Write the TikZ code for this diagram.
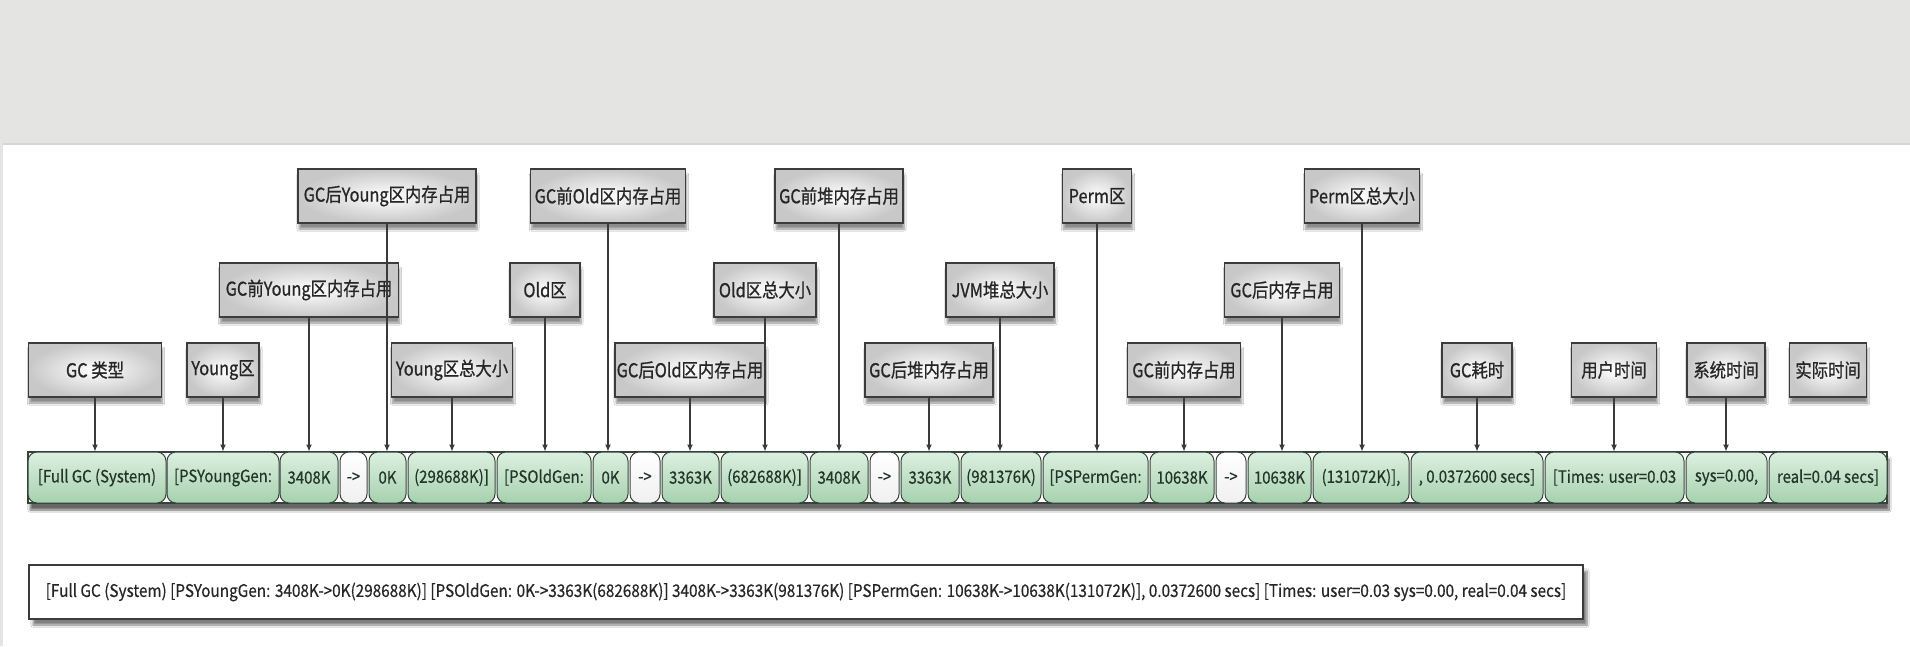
\documentclass[tikz,border=0pt]{standalone}
\usepackage{fontspec}
\setmainfont{Noto Sans CJK SC}
\newfontfamily\condfam[FakeStretch=0.86,FakeBold=0.8]{Noto Sans CJK SC}
\newfontfamily\barfam[FakeStretch=0.88,FakeBold=0.4]{Noto Sans CJK SC}
\usetikzlibrary{arrows.meta,shadows.blur}
\definecolor{band}{HTML}{E4E4E2}
\definecolor{lblborder}{HTML}{3C3C3C}
\definecolor{lblouter}{HTML}{C8C8C8}
\definecolor{lbltext}{HTML}{262626}
\definecolor{segborder}{HTML}{35423A}
\definecolor{segtop}{HTML}{DDF0E0}
\definecolor{segbot}{HTML}{A6D1AE}
\definecolor{segtext}{HTML}{22352A}
\definecolor{connc}{HTML}{3A3A3A}
\newcommand\lblfont{\condfam\fontsize{19}{22}\selectfont}
\newcommand\segfont{\barfam\fontsize{17}{20}\selectfont}
\newcommand\logfont{\barfam\fontsize{17.4}{20}\selectfont}
\tikzset{
  lbl/.style={draw=lblborder, line width=1.3pt, inner color=white, outer color=lblouter,
    minimum height=54pt, inner sep=0pt, font=\lblfont, text=lbltext,
    blur shadow={shadow xshift=1pt, shadow yshift=-6pt, shadow blur steps=8, shadow opacity=45}},
  seg/.style={draw=segborder, line width=1pt, rounded corners=9pt, top color=segtop, bottom color=segbot,
    minimum height=51pt, inner sep=0pt, font=\segfont, text=segtext},
  segw/.style={seg, top color=white, bottom color=white!94!black},
  barbg/.style={draw=segborder, line width=1.2pt, fill=white, inner sep=0pt,
    blur shadow={shadow xshift=2pt, shadow yshift=-7pt, shadow blur steps=10, shadow opacity=60}},
  logbox/.style={draw=lblborder, line width=1.3pt, fill=white, inner sep=0pt, font=\logfont, text=lbltext,
    blur shadow={shadow xshift=4pt, shadow yshift=-6pt, shadow blur steps=8, shadow opacity=50}},
  conn/.style={draw=connc, line width=1.2pt, -{Latex[length=7pt,width=6pt]}},
}
\begin{document}
\begin{tikzpicture}[x=1pt,y=-1pt]
\useasboundingbox (0,0) rectangle (1910,646);
\fill[white] (0,0) rectangle (1910,646);
\fill[band] (0,0) rectangle (1910,145);
\fill[band] (0,145) rectangle (3,646);
\fill[black!16] (3,143) rectangle (1910,145);

% bar background
\node[barbg, minimum width=1859pt, minimum height=51pt] (bar) at (957.5,477.5) {};

% bar segments
\node[seg,  minimum width=138pt] (s1)  at (97,477.5)    {[Full GC (System)};
\node[seg,  minimum width=112pt] (s2)  at (223,477.5)   {[PSYoungGen:};
\node[seg,  minimum width=58pt]  (s3)  at (309,477.5)   {3408K};
\node[segw, minimum width=27pt]  (s4)  at (353.5,477.5) {->};
\node[seg,  minimum width=37pt]  (s5)  at (387.5,477.5) {0K};
\node[seg,  minimum width=87pt]  (s6)  at (451.5,477.5) {(298688K)]};
\node[seg,  minimum width=94pt]  (s7)  at (544,477.5)   {[PSOldGen:};
\node[seg,  minimum width=35pt]  (s8)  at (610.5,477.5) {0K};
\node[segw, minimum width=30pt]  (s9)  at (645,477.5)   {->};
\node[seg,  minimum width=57pt]  (s10) at (690.5,477.5) {3363K};
\node[seg,  minimum width=87pt]  (s11) at (764.5,477.5) {(682688K)]};
\node[seg,  minimum width=58pt]  (s12) at (839,477.5)   {3408K};
\node[segw, minimum width=29pt]  (s13) at (884.5,477.5) {->};
\node[seg,  minimum width=58pt]  (s14) at (930,477.5)   {3363K};
\node[seg,  minimum width=80pt]  (s15) at (1001,477.5)  {(981376K)};
\node[seg,  minimum width=105pt] (s16) at (1095.5,477.5){[PSPermGen:};
\node[seg,  minimum width=64pt]  (s17) at (1182,477.5)  {10638K};
\node[segw, minimum width=30pt]  (s18) at (1231,477.5)  {->};
\node[seg,  minimum width=63pt]  (s19) at (1279.5,477.5){10638K};
\node[seg,  minimum width=96pt]  (s20) at (1361,477.5)  {(131072K)],};
\node[seg,  minimum width=132pt] (s21) at (1477,477.5)  {, 0.0372600 secs]};
\node[seg,  minimum width=139pt] (s22) at (1614.5,477.5){[Times: user=0.03};
\node[seg,  minimum width=81pt]  (s23) at (1726.5,477.5){sys=0.00,};
\node[seg,  minimum width=118pt] (s24) at (1828,477.5)  {real=0.04 secs]};

% labels, level 1
\node[lbl, minimum width=178pt] (gcyafter)    at (387,196)  {GC后Young区内存占用};
\node[lbl, minimum width=155pt] (gcoldbefore) at (608,196)  {GC前Old区内存占用};
\node[lbl, minimum width=128pt] (gcheapbefore) at (839,196) {GC前堆内存占用};
\node[lbl, minimum width=69pt]  (perm)        at (1097,196) {Perm区};
\node[lbl, minimum width=115pt] (permsize)    at (1362,196) {Perm区总大小};
% level 2
\node[lbl, minimum width=179pt] (gcybefore)   at (309,290)  {GC前Young区内存占用};
\node[lbl, minimum width=70pt]  (old)         at (545,290)  {Old区};
\node[lbl, minimum width=102pt] (oldsize)     at (765,290)  {Old区总大小};
\node[lbl, minimum width=108pt] (jvm)         at (1000,290) {JVM堆总大小};
\node[lbl, minimum width=115pt] (gcafter)     at (1282,290) {GC后内存占用};
% level 3
\node[lbl, minimum width=133pt] (gctype)      at (95,370)   {GC 类型};
\node[lbl, minimum width=72pt]  (young)       at (223,370)  {Young区};
\node[lbl, minimum width=121pt] (youngsize)   at (452,370)  {Young区总大小};
\node[lbl, minimum width=150pt] (gcoldafter)  at (690,370)  {GC后Old区内存占用};
\node[lbl, minimum width=128pt] (gcheapafter) at (929,370)  {GC后堆内存占用};
\node[lbl, minimum width=113pt] (gcbefore)    at (1184,370) {GC前内存占用};
\node[lbl, minimum width=70pt]  (gctime)      at (1477,370) {GC耗时};
\node[lbl, minimum width=85pt]  (user)        at (1614,370) {用户时间};
\node[lbl, minimum width=78pt]  (sys)         at (1726,370) {系统时间};
\node[lbl, minimum width=77pt]  (real)        at (1828,370) {实际时间};

% connectors
\foreach \l/\s in {gcyafter/s5, gcoldbefore/s8, gcheapbefore/s12, perm/s16, permsize/s20,
                   gcybefore/s3, old/s7, oldsize/s11, jvm/s15, gcafter/s19,
                   gctype/s1, young/s2, youngsize/s6, gcoldafter/s10, gcheapafter/s14,
                   gcbefore/s17, gctime/s21, user/s22, sys/s23}
  \draw[conn] (\l.south) -- (\l.south |- \s.north);

% full log line
\node[logbox, minimum width=1554pt, minimum height=54pt] (log) at (806,592)
  {[Full GC (System) [PSYoungGen: 3408K->0K(298688K)] [PSOldGen: 0K->3363K(682688K)] 3408K->3363K(981376K) [PSPermGen: 10638K->10638K(131072K)], 0.0372600 secs] [Times: user=0.03 sys=0.00, real=0.04 secs]};
\end{tikzpicture}
\end{document}
